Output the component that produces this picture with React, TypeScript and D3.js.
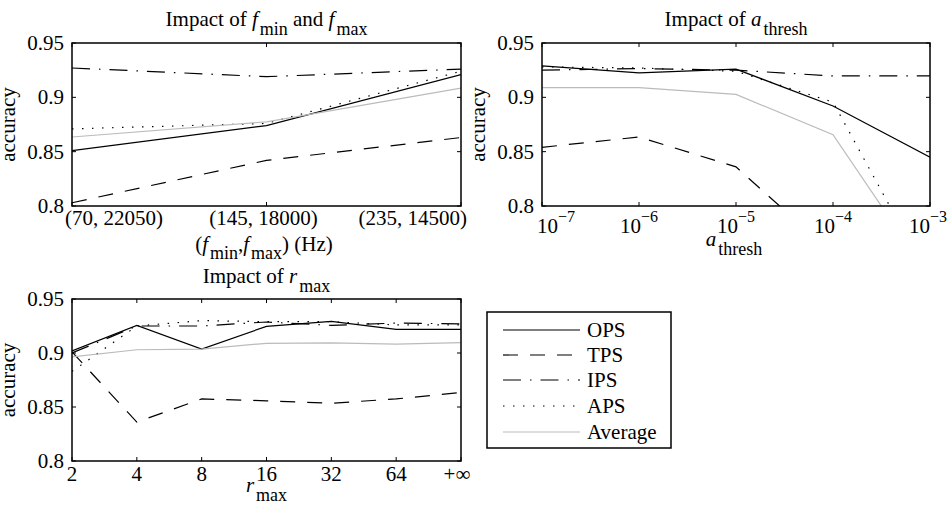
import React from 'react';
import * as d3 from 'd3';

const W = 947;
const H = 514;
const FONT = '"Liberation Serif", "Times New Roman", serif';

// shared y axis
const yTicks = [0.8, 0.85, 0.9, 0.95];
const yTickLabels = ['0.8', '0.85', '0.9', '0.95'];

// Impact of fmin / fmax
const fCats = ['(70, 22050)', '(145, 18000)', '(235, 14500)'];
const fOPS = [0.851, 0.874, 0.921];
const fTPS = [0.803, 0.842, 0.863];
const fIPS = [0.927, 0.919, 0.926];
const fAPS = [0.871, 0.876, 0.924];
const fAvg = [0.8635, 0.8775, 0.9085];

// Impact of a_thresh
const aThresh = [1e-7, 1e-6, 1e-5, 1e-4, 1e-3];
const aExp = ['−7', '−6', '−5', '−4', '−3'];
const aOPS = [0.929, 0.9225, 0.926, 0.892, 0.845];
const aTPS = [0.854, 0.8635, 0.836, 0.756, 0.44];
const aIPS = [0.925, 0.9265, 0.925, 0.9197, 0.9197];
const aAPS = [0.928, 0.927, 0.924, 0.8956, 0.732];
const aAvg = [0.909, 0.909, 0.9027, 0.8656, 0.734];

// Impact of r_max
const rCats = ['2', '4', '8', '16', '32', '64', '+∞'];
const rOPS = [0.902, 0.9256, 0.9036, 0.9247, 0.9293, 0.9219, 0.9219];
const rTPS = [0.901, 0.836, 0.8575, 0.8557, 0.8535, 0.8575, 0.8634];
const rIPS = [0.9, 0.925, 0.925, 0.9287, 0.9256, 0.9277, 0.927];
const rAPS = [0.883, 0.925, 0.93, 0.929, 0.929, 0.926, 0.926];
const rAvg = [0.8965, 0.903, 0.9036, 0.909, 0.9094, 0.9083, 0.9096];

const seriesNames = ['OPS', 'TPS', 'IPS', 'APS', 'Average'];

const lineStyle: Record<string, { stroke: string; dash?: string }> = {
  OPS: { stroke: '#000' },
  TPS: { stroke: '#000', dash: '15 12' },
  IPS: { stroke: '#000', dash: '18 9 1.5 9' },
  APS: { stroke: '#000', dash: '1.5 8.5' },
  Average: { stroke: '#bbb' },
};

// rich text pieces: [text, italic, subscript]
type Seg = [string, boolean?, boolean?];
const titleF: Seg[] = [['Impact of '], ['f', true], ['min', false, true], [' and '], ['f', true], ['max', false, true]];
const titleA: Seg[] = [['Impact of '], ['a', true], ['thresh', false, true]];
const titleR: Seg[] = [['Impact of '], ['r', true], ['max', false, true]];
const labelF: Seg[] = [['('], ['f', true], ['min', false, true], [','], ['f', true], ['max', false, true], [') (Hz)']];
const labelA: Seg[] = [['a', true], ['thresh', false, true]];
const labelR: Seg[] = [['r', true], ['max', false, true]];

interface Box { left: number; right: number; top: number; bottom: number }

const boxF: Box = { left: 72, right: 461, top: 43, bottom: 206 };
const boxA: Box = { left: 542, right: 930, top: 43, bottom: 206 };
const boxR: Box = { left: 72, right: 461, top: 299, bottom: 461 };

const TICK = 4;

function Rich({ x, y, segs, shift = 9 }: { x: number; y: number; segs: Seg[]; shift?: number }) {
  let prevSub = false;
  return (
    <text x={x} y={y} textAnchor="middle">
      {segs.map(([t, it, sub], i) => {
        const dy = sub && !prevSub ? shift : !sub && prevSub ? -shift : undefined;
        prevSub = !!sub;
        return (
          <tspan key={i} dy={dy} dx={sub ? 2 : undefined} fontStyle={it ? 'italic' : undefined}
            fontSize={sub ? 18 : undefined}>{t}</tspan>
        );
      })}
    </text>
  );
}

function Panel({ id, box, xPos, series }: {
  id: string; box: Box; xPos: number[]; series: number[][];
}) {
  const y = d3.scaleLinear().domain([0.8, 0.95]).range([box.bottom, box.top]);
  const line = d3.line<number>().x((_, i) => xPos[i]).y(d => y(d));
  const midY = (box.top + box.bottom) / 2;
  return (
    <g>
      <clipPath id={id}>
        <rect x={box.left} y={box.top} width={box.right - box.left} height={box.bottom - box.top} />
      </clipPath>
      <g clipPath={`url(#${id})`}>
        {series.map((vals, k) => {
          const st = lineStyle[seriesNames[k]];
          return (
            <path key={k} d={line(vals) || ''} fill="none" stroke={st.stroke}
              strokeWidth={1.2} strokeDasharray={st.dash} />
          );
        })}
      </g>
      {xPos.map((px, i) => (
        <g key={'xt' + i} stroke="#000" strokeWidth={1}>
          <line x1={px} x2={px} y1={box.bottom} y2={box.bottom - TICK} />
          <line x1={px} x2={px} y1={box.top} y2={box.top + TICK} />
        </g>
      ))}
      {yTicks.map((t, i) => (
        <g key={'yt' + i} stroke="#000" strokeWidth={1}>
          <line x1={box.left} x2={box.left + TICK} y1={y(t)} y2={y(t)} />
          <line x1={box.right} x2={box.right - TICK} y1={y(t)} y2={y(t)} />
        </g>
      ))}
      <rect x={box.left} y={box.top} width={box.right - box.left} height={box.bottom - box.top}
        fill="none" stroke="#000" strokeWidth={1.5} />
      {yTicks.map((t, i) => (
        <text key={'yl' + i} x={box.left - 8} y={y(t) + 7} textAnchor="end">{yTickLabels[i]}</text>
      ))}
      <text transform={`translate(${box.left - 57},${midY}) rotate(-90)`} textAnchor="middle">accuracy</text>
    </g>
  );
}

export default function App() {
  const xF = d3.scalePoint<string>().domain(fCats).range([boxF.left, boxF.right]);
  const xA = d3.scaleLog().domain([1e-7, 1e-3]).range([boxA.left, boxA.right]);
  const xR = d3.scalePoint<string>().domain(rCats).range([boxR.left, boxR.right]);

  const fX = fCats.map(c => xF(c) as number);
  const aX = aThresh.map(v => xA(v));
  const rX = rCats.map(c => xR(c) as number);

  const legendY = [330, 355, 380, 406, 432];

  return (
    <svg width={W} height={H} style={{ position: 'absolute', left: 0, top: 0, background: '#fff', fontFamily: FONT }}
      fontFamily={FONT} fontSize={21} fill="#000">
      <rect width={W} height={H} fill="#fff" />

      {/* Impact of fmin and fmax */}
      <Panel id="clipF" box={boxF} xPos={fX} series={[fOPS, fTPS, fIPS, fAPS, fAvg]} />
      <Rich x={(boxF.left + boxF.right) / 2} y={26} segs={titleF} />
      {fCats.map((c, i) => (
        <text key={c} x={fX[i] + (i === 0 ? -7 : i === 1 ? -3 : 6)} y={225}
          textAnchor={i === 0 ? 'start' : i === 1 ? 'middle' : 'end'}>{c}</text>
      ))}
      <Rich x={264} y={251} segs={labelF} shift={8} />

      {/* Impact of a_thresh */}
      <Panel id="clipA" box={boxA} xPos={aX} series={[aOPS, aTPS, aIPS, aAPS, aAvg]} />
      <Rich x={(boxA.left + boxA.right) / 2} y={26} segs={titleA} />
      {aThresh.map((v, i) => (
        <text key={v} x={aX[i] + (i === 0 ? -5 : i === aThresh.length - 1 ? -2 : 0)} y={233}
          textAnchor={i === 0 ? 'start' : 'middle'}>
          10<tspan dy={-11} fontSize={16}>{aExp[i]}</tspan>
        </text>
      ))}
      <Rich x={734} y={246} segs={labelA} />

      {/* Impact of r_max */}
      <Panel id="clipR" box={boxR} xPos={rX} series={[rOPS, rTPS, rIPS, rAPS, rAvg]} />
      <Rich x={(boxR.left + boxR.right) / 2} y={283} segs={titleR} />
      {rCats.map((c, i) => (
        <text key={c} x={rX[i] + (i === rCats.length - 1 ? -4 : 0)} y={481} textAnchor="middle">{c}</text>
      ))}
      <Rich x={(boxR.left + boxR.right) / 2} y={492} segs={labelR} />

      {/* Legend */}
      <rect x={487} y={312} width={184} height={136} fill="#fff" stroke="#000" strokeWidth={1.5} />
      {seriesNames.map((n, i) => {
        const st = lineStyle[n];
        return (
          <g key={n}>
            <line x1={503} x2={580} y1={legendY[i]} y2={legendY[i]} stroke={st.stroke}
              strokeWidth={1.2} strokeDasharray={st.dash} />
            <text x={587} y={legendY[i] + 7}>{n}</text>
          </g>
        );
      })}
    </svg>
  );
}
